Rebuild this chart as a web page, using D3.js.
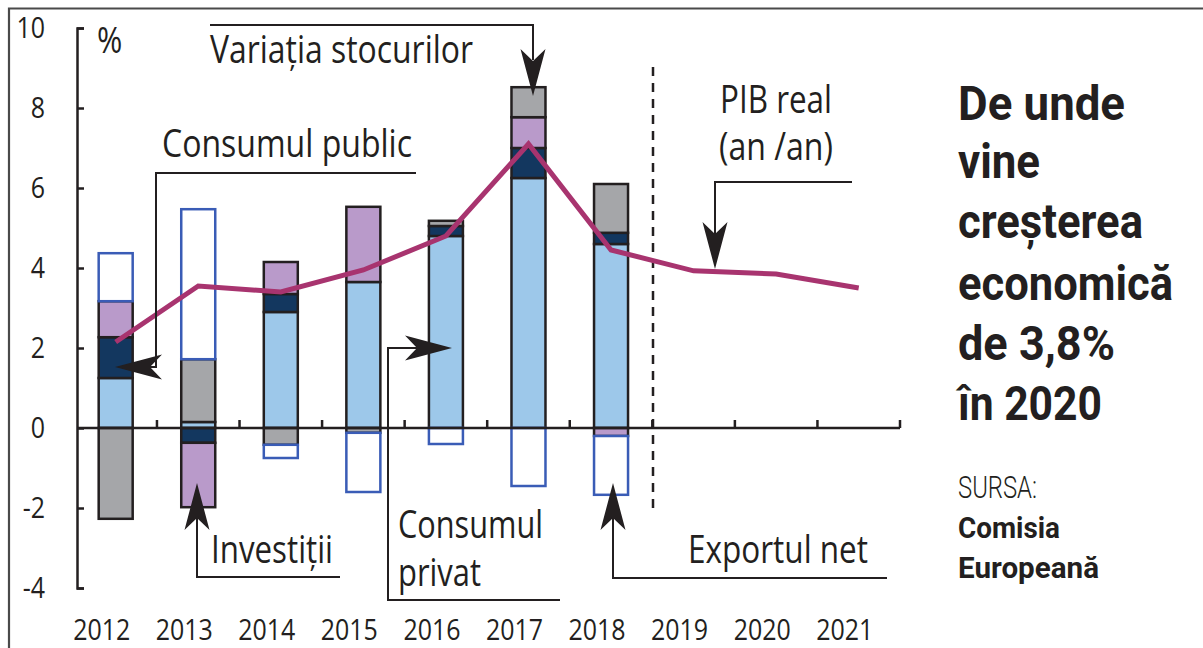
<!DOCTYPE html>
<html><head><meta charset="utf-8">
<script src="https://cdn.jsdelivr.net/npm/d3@7"></script>
<style>
body{margin:0;background:#fff;}
svg{display:block;}
text{font-family:"Open Sans","Noto Sans","DejaVu Sans",sans-serif;fill:#231f20;}
.ttl{font-family:Roboto,"Liberation Sans",sans-serif;}
</style></head><body>
<svg id="c" width="1203" height="648"></svg>
<script>
// ---------- data ----------
const years = ["2012","2013","2014","2015","2016","2017","2018","2019","2020","2021"];
const barYears = ["2012","2013","2014","2015","2016","2017","2018"];
const consumPrivat = [1.25, 0.15, 2.9, 3.65, 4.8, 6.25, 4.6];
const consumPublic = [1.02, -0.37, 0.45, 0, 0.25, 0.75, 0.28];
const investitii   = [0.9, -1.61, 0.8, 1.88, 0, 0.77, -0.2];
const stocuri      = [-2.27, 1.57, -0.42, -0.12, 0.13, 0.75, 1.22];
const exportNet    = [1.2, 3.75, -0.33, -1.48, -0.4, -1.45, -1.47];
const pibReal      = [2.15, 3.55, 3.4, 3.95, 4.8, 7.1, 4.45, 3.93, 3.85, 3.5];
const yTicks = [-4, -2, 0, 2, 4, 6, 8, 10];
const seriesKeys = ["privat","public","investitii","stocuri","export"];
const seriesFill = {privat:"#9dc8ea", public:"#13375f", investitii:"#b99aca", stocuri:"#a5a6a9", export:"#ffffff"};
const seriesStroke = {privat:"#231f20", public:"#231f20", investitii:"#231f20", stocuri:"#231f20", export:"#3a5cb6"};

// ---------- setup ----------
const svg = d3.select("#c");
const ink = "#231f20";
const x = d3.scaleBand().domain(years).range([74.4, 900]).paddingInner(0).paddingOuter(0);
const y = d3.scaleLinear().domain([-4, 10]).range([588, 28]);
const barW = 34;
const cx = d => x(d) + x.step() / 2;

function condense(sel, f) {
  sel.each(function(){ const n = this; const w = n.getComputedTextLength(); d3.select(n).attr("textLength", w * f).attr("lengthAdjust","spacingAndGlyphs"); });
}

// frame
svg.append("path").attr("d","M9,648V8.5H1203").attr("fill","none").attr("stroke","#4a4a4a").attr("stroke-width",2.2);

// ---------- bars ----------
const rows = barYears.map((yr,i)=>({year:yr, privat:consumPrivat[i], public:consumPublic[i], investitii:investitii[i], stocuri:stocuri[i], export:exportNet[i]}));
const stacked = d3.stack().keys(seriesKeys).offset(d3.stackOffsetDiverging)(rows);
const barG = svg.append("g");
stacked.forEach(s => {
  barG.append("g").selectAll("rect")
    .data(s.filter(d => d.data[s.key] !== 0))
    .join("rect")
    .attr("x", d => cx(d.data.year) - barW/2)
    .attr("width", barW)
    .attr("y", d => y(Math.max(d[0], d[1])))
    .attr("height", d => Math.abs(y(d[0]) - y(d[1])))
    .attr("fill", seriesFill[s.key])
    .attr("stroke", seriesStroke[s.key])
    .attr("stroke-width", 2.5);
});

// ---------- axes ----------
const yAxisG = svg.append("g").attr("transform","translate(77,0)")
  .call(d3.axisRight(y).tickValues(yTicks).tickSize(7).tickSizeOuter(7).tickFormat(""));
yAxisG.selectAll("path,line").attr("stroke", ink).attr("stroke-width", 2.5);

const yLab = svg.append("g").attr("transform","translate(45,0)")
  .call(d3.axisLeft(y).tickValues(yTicks).tickSize(0).tickPadding(0).tickFormat(d => String(d)));
yLab.select(".domain").remove();
yLab.selectAll("text").attr("font-size",29).attr("fill",ink).attr("font-family",null);
condense(yLab.selectAll("text"), 0.86);

// x axis line and boundary ticks
svg.append("line").attr("x1",77).attr("x2",x.range()[1]).attr("y1",y(0)).attr("y2",y(0)).attr("stroke",ink).attr("stroke-width",2.5);
svg.append("g").selectAll("line").data(years).join("line")
  .attr("x1", d => x(d) + x.step()).attr("x2", d => x(d) + x.step())
  .attr("y1", y(0)).attr("y2", y(0) - 8).attr("stroke", ink).attr("stroke-width", 2.5);

const xLab = svg.append("g").attr("transform",`translate(0,${y(0)})`)
  .call(d3.axisBottom(x).tickSize(0).tickPadding(0));
xLab.select(".domain").remove();
xLab.selectAll("text").attr("font-size",29).attr("fill",ink).attr("font-family",null)
  .attr("y", 640 - y(0)).attr("dy", 0).attr("dx", -14);
condense(xLab.selectAll("text"), 0.86);

// % label
svg.append("text").attr("x",97).attr("y",53).attr("font-size",36).text("%").call(s=>condense(s,0.85));

// dashed forecast separator
svg.append("line").attr("x1",653).attr("x2",653).attr("y1",67).attr("y2",513)
  .attr("stroke",ink).attr("stroke-width",2.5).attr("stroke-dasharray","9,7");

// ---------- PIB line ----------
svg.append("path").datum(pibReal)
  .attr("d", d3.line().x((d,i) => cx(years[i])).y(d => y(d)))
  .attr("fill","none").attr("stroke","#a8346f").attr("stroke-width",5);

// ---------- annotations ----------
const annG = svg.append("g");
function leader(pts){ annG.append("path").attr("d", d3.line()(pts)).attr("fill","none").attr("stroke",ink).attr("stroke-width",2); }
function arrow(tx, ty, angle){
  annG.append("path").attr("d","M0,0L-47,-12.5L-35,0L-47,12.5Z")
    .attr("transform",`translate(${tx},${ty}) rotate(${angle})`).attr("fill",ink);
}
function label(xp, yp, str, w, size, weight, cls){
  annG.append("text").attr("x",xp).attr("y",yp).attr("font-size",size||38)
    .attr("font-weight",weight||400).attr("class",cls||null)
    .attr("textLength",w).attr("lengthAdjust","spacingAndGlyphs").text(str);
}

// Variația stocurilor
leader([[210,25],[533,25],[533,60]]);
arrow(533, 96, 90);
label(210, 63, "Variația stocurilor", 263);

// Consumul public
leader([[416,173],[156,173],[156,367],[150,367]]);
arrow(115, 367, 180);
label(162, 157, "Consumul public", 250);

// Investiții
leader([[340,577],[197,577],[197,515]]);
arrow(197, 483, -90);
label(211, 563, "Investiții", 122);

// Consumul privat
leader([[560,600],[388,600],[388,348],[420,348]]);
arrow(452, 348, 0);
label(398, 538, "Consumul", 145);
label(398, 586, "privat", 83);

// Exportul net
leader([[887,578],[613,578],[613,515]]);
arrow(613, 483, -90);
label(688, 563, "Exportul net", 180);

// PIB real
leader([[852,182],[715,182],[715,235]]);
arrow(715, 269, 90);
label(720, 113, "PIB real", 112);
label(719, 160, "(an /an)", 114);

// ---------- title ----------
const titleLines = [["De unde",120,167],["vine",178,82],["creșterea",238,185],["economică",300,215],["de 3,8%",360,157],["în 2020",420,144]];
titleLines.forEach(t => label(958, t[1], t[0], t[2], 48, 700, "ttl"));
label(958, 498, "SURSA:", 79, 31, 300, "ttl");
label(958, 538, "Comisia", 102, 29, 700, "ttl");
label(958, 578, "Europeană", 141, 29, 700, "ttl");
</script>
</body></html>
